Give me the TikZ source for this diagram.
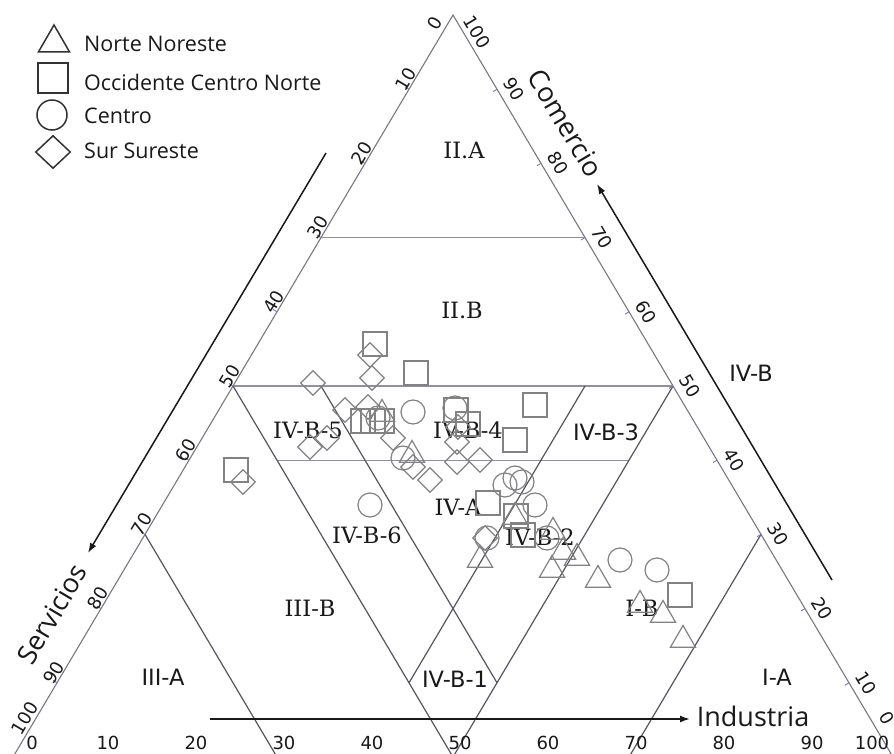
\documentclass[tikz,border=0pt]{standalone}
\usepackage{fontspec}
\setmainfont{Open Sans}
\newfontfamily\tickfont{DejaVu Sans}
\newfontfamily\zoneserif{DejaVu Serif}
\newfontfamily\zonesans{DejaVu Sans}
\usetikzlibrary{shapes.geometric,arrows.meta,calc}

\definecolor{edgec}{RGB}{120,120,132}
\definecolor{zonec}{RGB}{85,85,98}
\definecolor{hlc}{RGB}{145,145,156}
\definecolor{axc}{RGB}{25,25,25}
\definecolor{mkc}{RGB}{130,130,130}
\definecolor{legc}{RGB}{50,50,50}
\definecolor{txtc}{RGB}{25,25,25}
\definecolor{tickc}{RGB}{120,120,190}

\tikzset{
  triedge/.style={draw=edgec, line width=1.1pt},
  zoneline/.style={draw=zonec, line width=1.2pt},
  hline/.style={draw=hlc, line width=1.4pt},
  axisarrow/.style={draw=axc, line width=1.5pt, -{Latex[length=10pt,width=7pt]}},
  mk/.style={draw=mkc, line width=1.2pt, inner sep=0pt},
  nn/.style={mk, regular polygon, regular polygon sides=3, minimum size=29pt},
  oc/.style={mk, rectangle, minimum size=24pt},
  ce/.style={mk, circle, minimum size=24pt},
  ss/.style={mk, diamond, minimum size=25pt},
  lg/.style={draw=legc, line width=1.5pt, inner sep=0pt},
  legtext/.style={anchor=west, text=txtc, inner sep=0pt, font=\fontsize{21.5}{25}\selectfont},
  zoneS/.style={text=txtc, inner sep=0pt, font=\zoneserif\fontsize{22.5}{26}\selectfont},
  zoneV/.style={text=txtc, inner sep=0pt, font=\zonesans\fontsize{22.5}{26}\selectfont},
  ticklbl/.style={text=txtc, inner sep=0pt, font=\tickfont\fontsize{18}{21}\selectfont},
  axtitle/.style={text=txtc, inner sep=0pt, font=\fontsize{27}{31}\selectfont},
  tickmark/.style={draw=tickc, line width=0.9pt}
}

\begin{document}
\begin{tikzpicture}[x=1pt,y=-1pt]
\useasboundingbox (0,0) rectangle (894,754);
\clip (0,0) rectangle (894,754);
\fill[white] (0,0) rectangle (894,754);

% vertices: Comercio (top), Servicios (bottom left), Industria (bottom right)
\coordinate (C) at (453,15);
\coordinate (S) at (13,757);
\coordinate (I) at (893,757);

% zone boundary end points
\coordinate (c70L) at (barycentric cs:C=0.7,S=0.3,I=0);
\coordinate (c70R) at (barycentric cs:C=0.7,S=0,I=0.3);
\coordinate (c50L) at (barycentric cs:C=0.5,S=0.5,I=0);
\coordinate (c50R) at (barycentric cs:C=0.5,S=0,I=0.5);
\coordinate (c40L) at (barycentric cs:C=0.4,S=0.5,I=0.1);
\coordinate (c40R) at (barycentric cs:C=0.4,S=0.1,I=0.5);
\coordinate (s70T) at (barycentric cs:C=0.3,S=0.7,I=0);
\coordinate (s70B) at (barycentric cs:C=0,S=0.7,I=0.3);
\coordinate (midB) at (barycentric cs:C=0,S=0.5,I=0.5);
\coordinate (s40T) at (barycentric cs:C=0.5,S=0.4,I=0.1);
\coordinate (s40B) at (barycentric cs:C=0.1,S=0.4,I=0.5);
\coordinate (i40T) at (barycentric cs:C=0.5,S=0.1,I=0.4);
\coordinate (i40B) at (barycentric cs:C=0.1,S=0.5,I=0.4);
\coordinate (i70T) at (barycentric cs:C=0.3,S=0,I=0.7);
\coordinate (i70B) at (barycentric cs:C=0,S=0.3,I=0.7);

% horizontal Comercio levels
\draw[hline] (c70L) -- (c70R);
\draw[hline] (c50L) -- (c50R);
\draw[hline] (c40L) -- (c40R);

% oblique zone boundaries
\draw[zoneline] (s70T) -- (s70B);
\draw[zoneline] (c50L) -- (midB);
\draw[zoneline] (c50R) -- (midB);
\draw[zoneline] (s40T) -- (s40B);
\draw[zoneline] (i40T) -- (i40B);
\draw[zoneline] (i70T) -- (i70B);

% triangle frame
\draw[triedge] (C) -- (S) -- (I) -- cycle;

% ticks and scale labels
\foreach \k in {1,...,9}{
  \pgfmathsetmacro{\f}{\k/10}
  \draw[tickmark] ($(C)!\f!(S)$) -- ++(-4,-2.4);
  \draw[tickmark] ($(I)!\f!(C)$) -- ++(-4,2.4);
  \node[ticklbl, rotate=59.3] (sl\k) at ($(C)!\f!(S)+(-3,-10)$) {\the\numexpr\k*10\relax};
  \node[ticklbl, rotate=-59.3] (cl\k) at ($(I)!\f!(C)+(17,0)$) {\the\numexpr\k*10\relax};
  \node[ticklbl] (il\k) at ($(S)!\f!(I)+(7,-14)$) {\the\numexpr\k*10\relax};
}
\node[ticklbl, rotate=59.3] (sl0) at (435,23) {0};
\node[ticklbl, rotate=59.3] (sl10) at (25,718) {100};
\node[ticklbl, rotate=-59.3] (cl10) at (477,32) {100};
\node[ticklbl, rotate=-59.3] (cl0) at (887,718) {0};
\node[ticklbl] (il0) at (32,743) {0};
\node[ticklbl] (il10) at (872,743) {100};

% axis arrows and titles
\coordinate (svA) at (326,153);
\coordinate (svB) at (88,553);
\coordinate (coA) at (832,580);
\coordinate (coB) at (597,184);
\coordinate (inA) at (210,719);
\coordinate (inB) at (690,719);
\draw[axisarrow] (svA) -- (svB);
\draw[axisarrow] (coA) -- (coB);
\draw[axisarrow] (inA) -- (inB);
\node[axtitle, rotate=59.3] (tServ) at (52,614) {Servicios};
\node[axtitle, rotate=-59.3] (tCom) at (566,123) {Comercio};
\node[axtitle] (tInd) at (753,716) {Industria};

% zone names
\node[zoneS] (zIIA) at (464,150) {II.A};
\node[zoneS] (zIIB) at (462,310) {II.B};
\node[zoneS] (zB5) at (308,430) {IV-B-5};
\node[zoneS] (zB4) at (468,430) {IV-B-4};
\node[zoneV] (zB3) at (606,432) {IV-B-3};
\node[zoneS] (zIVA) at (458,507) {IV-A};
\node[zoneS] (zB6) at (367,535) {IV-B-6};
\node[zoneS] (zB2) at (540,537) {IV-B-2};
\node[zoneS] (zIIIB) at (310,608) {III-B};
\node[zoneS] (zIB) at (642,608) {I-B};
\node[zoneV] (zIIIA) at (163,677) {III-A};
\node[zoneV] (zB1) at (455,679) {IV-B-1};
\node[zoneV] (zIA) at (777,677) {I-A};
\node[zoneV] (zIVB) at (751,373) {IV-B};

% Sur Sureste
\foreach \n/\p in {1/{(370,355)},2/{(372,378)},3/{(313,383)},4/{(345,410)},5/{(368,407)},
  6/{(310,447)},7/{(327,438)},8/{(393,438)},9/{(413,467)},10/{(430,480)},11/{(457,442)},
  12/{(457,462)},13/{(480,460)},14/{(458,427)},15/{(243,482)},16/{(485,538)}}
  \node[ss] (d\n) at \p {};

% Occidente Centro Norte
\foreach \n/\p in {1/{(375,344)},2/{(416,373)},3/{(236,470)},4/{(535,405)},5/{(456,410)},
  6/{(468,424)},7/{(515,440)},8/{(363,421)},9/{(373,421)},10/{(382,421)},11/{(488,503)},
  12/{(516,516)},13/{(523,535)},14/{(680,595)}}
  \node[oc] (q\n) at \p {};

% Centro
\foreach \n/\p in {1/{(413,412)},2/{(455,408)},3/{(403,458)},4/{(378,418)},5/{(370,505)},
  6/{(505,485)},7/{(515,478)},8/{(522,482)},9/{(535,505)},10/{(487,538)},11/{(547,538)},
  12/{(620,560)},13/{(657,570)}}
  \node[ce] (o\n) at \p {};

% Norte Noreste
\foreach \n/\p in {1/{(382,414)},2/{(412,455)},3/{(480,560)},4/{(552,570)},5/{(563,552)},
  6/{(577,558)},7/{(598,580)},8/{(640,605)},9/{(663,615)},10/{(683,640)},11/{(515,517)},
  12/{(553,532)}}
  \node[nn] (t\n) at \p {};

% legend
\node[lg, regular polygon, regular polygon sides=3, minimum size=36pt] (lgT) at (54,43) {};
\node[lg, rectangle, minimum size=30pt] (lgQ) at (53,78) {};
\node[lg, circle, minimum size=30pt] (lgO) at (52,115) {};
\node[lg, diamond, minimum width=35pt, minimum height=33pt] (lgD) at (53,152) {};
\node[legtext] (ltT) at (84,44) {Norte Noreste};
\node[legtext] (ltQ) at (84,82) {Occidente Centro Norte};
\node[legtext] (ltO) at (84,116) {Centro};
\node[legtext] (ltD) at (84,151) {Sur Sureste};
\end{tikzpicture}
\end{document}
